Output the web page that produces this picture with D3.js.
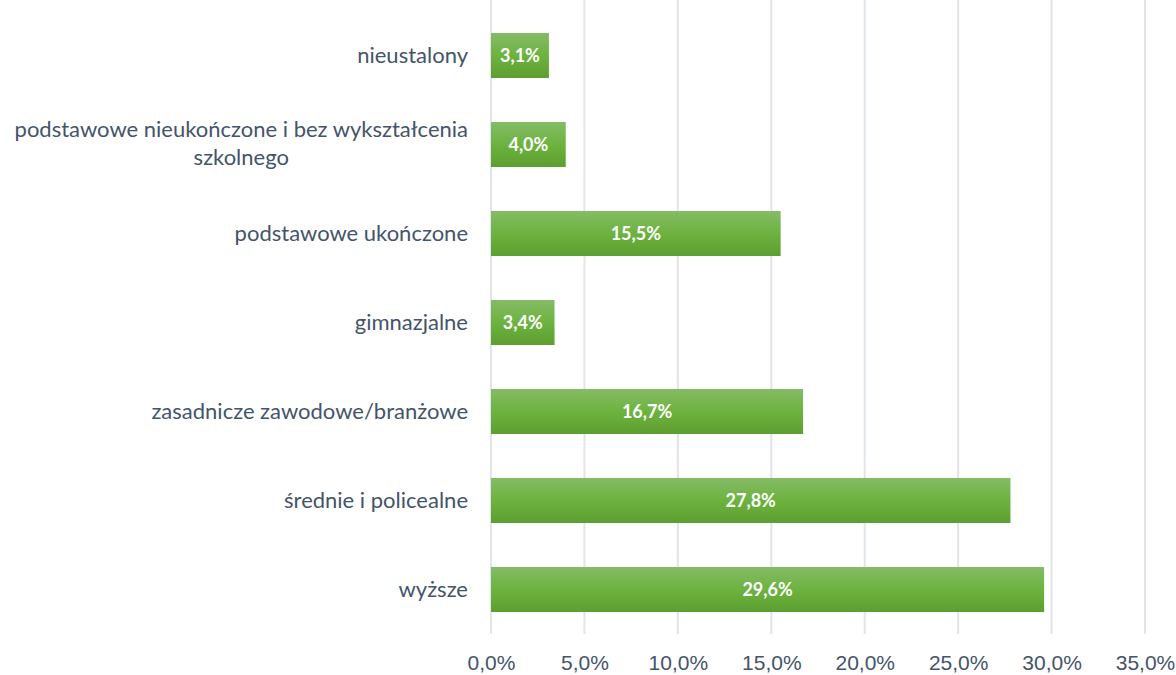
<!DOCTYPE html>
<html>
<head>
<meta charset="utf-8">
<script src="https://cdn.jsdelivr.net/npm/d3@7"></script>
<style>
  body { margin: 0; background: #fff; }
  svg { display: block; font-family: Lato, "Open Sans", sans-serif; }
</style>
</head>
<body>
<svg id="chart" width="1176" height="675"></svg>
<script>
const categories = [
  'nieustalony',
  'podstawowe nieukończone i bez wykształcenia|szkolnego',
  'podstawowe ukończone',
  'gimnazjalne',
  'zasadnicze zawodowe/branżowe',
  'średnie i policealne',
  'wyższe',
];
const values = [3.1, 4.0, 15.5, 3.4, 16.7, 27.8, 29.6];
const ticks = [0, 5, 10, 15, 20, 25, 30, 35];

const textColor = '#44546a';
const fmt = (v) => v.toFixed(1).replace('.', ',') + '%';

const svg = d3.select('#chart');
const plotLeft = 491;
const plotRight = 1145;
const plotTop = 11;
const plotBottom = 634;

const x = d3.scaleLinear().domain([0, 35]).range([plotLeft, plotRight]);
const y = d3.scaleBand().domain(categories).range([plotTop, plotBottom]).paddingInner(0.494).paddingOuter(0.247);

const grad = svg.append('defs').append('linearGradient')
  .attr('id', 'barGrad')
  .attr('x1', 0).attr('y1', 0).attr('x2', 0).attr('y2', 1);
grad.append('stop').attr('offset', '0%').attr('stop-color', '#85bb66');
grad.append('stop').attr('offset', '50%').attr('stop-color', '#6db33f');
grad.append('stop').attr('offset', '100%').attr('stop-color', '#5d9e30');

// gridlines
svg.append('g')
  .selectAll('line')
  .data(ticks)
  .join('line')
  .attr('x1', (d) => x(d))
  .attr('x2', (d) => x(d))
  .attr('y1', 0)
  .attr('y2', plotBottom)
  .attr('stroke', '#e0e4eb')
  .attr('stroke-width', 2);

// x axis labels
const xAxis = svg.append('g')
  .attr('transform', `translate(0,${plotBottom})`)
  .call(d3.axisBottom(x).tickValues(ticks).tickFormat(fmt).tickSize(0).tickPadding(21));
xAxis.select('.domain').remove();
xAxis.selectAll('text')
  .attr('fill', textColor)
  .style('font-size', '21px');

// bars
const rows = categories.map((c, i) => ({ cat: c, value: values[i] }));
svg.append('g')
  .selectAll('rect')
  .data(rows)
  .join('rect')
  .attr('x', x(0))
  .attr('y', (d) => y(d.cat))
  .attr('width', (d) => x(d.value) - x(0))
  .attr('height', y.bandwidth())
  .attr('fill', 'url(#barGrad)');

// value labels
svg.append('g')
  .selectAll('text')
  .data(rows)
  .join('text')
  .attr('x', (d) => (x(0) + x(d.value)) / 2)
  .attr('y', (d) => y(d.cat) + y.bandwidth() / 2)
  .attr('dy', '0.35em')
  .attr('text-anchor', 'middle')
  .attr('fill', '#fff')
  .style('font-size', '18px')
  .style('font-weight', 'bold')
  .text((d) => fmt(d.value));

// category labels
const catLabels = svg.append('g')
  .selectAll('text')
  .data(rows)
  .join('text')
  .attr('fill', textColor)
  .style('font-size', '22px')
  .attr('y', (d) => y(d.cat) + y.bandwidth() / 2)
  .attr('dy', '0.35em');

catLabels.each(function (d) {
  const parts = d.cat.split('|');
  const t = d3.select(this);
  if (parts.length === 1) {
    t.attr('x', 468).attr('text-anchor', 'end').text(parts[0]);
  } else {
    // wrapped label, lines centred on each other
    t.attr('text-anchor', 'middle');
    const first = t.append('tspan').text(parts[0]);
    const w = first.node().getComputedTextLength();
    const cx = 468 - w / 2;
    first.attr('x', cx).attr('dy', '-0.35em');
    t.append('tspan').attr('x', cx).attr('dy', '1.3em').text(parts[1]);
  }
});
</script>
</body>
</html>
